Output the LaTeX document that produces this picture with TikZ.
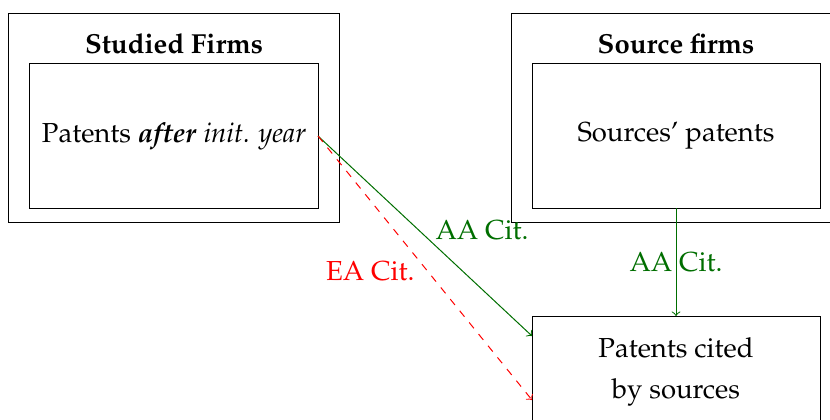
\documentclass[tikz,border=0pt]{standalone}
\usepackage[T1]{fontenc}
\usepackage{mathpazo}
\usepackage{xcolor}
\definecolor{aagreen}{RGB}{0,110,0}
\usetikzlibrary{calc}

\begin{document}
\begin{tikzpicture}[x=0.4pt, y=-0.4pt, font=\fontsize{11}{15}\selectfont,
  firmbox/.style={draw, outer sep=0pt, minimum width=132pt, minimum height=83.2pt},
  patbox/.style={draw, outer sep=0pt, align=center, minimum width=115.2pt, minimum height=57.6pt}]
\useasboundingbox (0,0) rectangle (830,419);
% firms
\node[firmbox] (studied) at (174,118) {};
\node[font=\fontsize{11}{15}\selectfont\bfseries] (studiedT) at (174,44) {Studied Firms};
\node[patbox] (after) at (174,136) {Patents \textbf{\textit{after}} \textit{init. year}};
\node[firmbox] (source) at (676,118) {};
\node[font=\fontsize{11}{15}\selectfont\bfseries] (sourceT) at (676,44) {Source firms};
\node[patbox] (srcpat) at (676,136) {Sources' patents};
% cited patents
\node[patbox] (cited) at (676,388) {};
\node[align=center] (citedT) at (676,372) {Patents cited\\[1.5pt]by sources};
% citations
\draw [->, color=aagreen] (after.east) -- ($(cited.north west)+(0,20)$)
  node[pos=0.535, anchor=south west, inner sep=1pt]{AA Cit.};
\draw [->, color=red, dashed] (after.east) -- ($(cited.north west)+(0,84)$)
  node[pos=0.465, anchor=north east, inner sep=1pt]{EA Cit.};
\draw [->, color=aagreen] (srcpat.south) -- (cited.north)
  node[midway]{AA Cit.};
\end{tikzpicture}
\end{document}
